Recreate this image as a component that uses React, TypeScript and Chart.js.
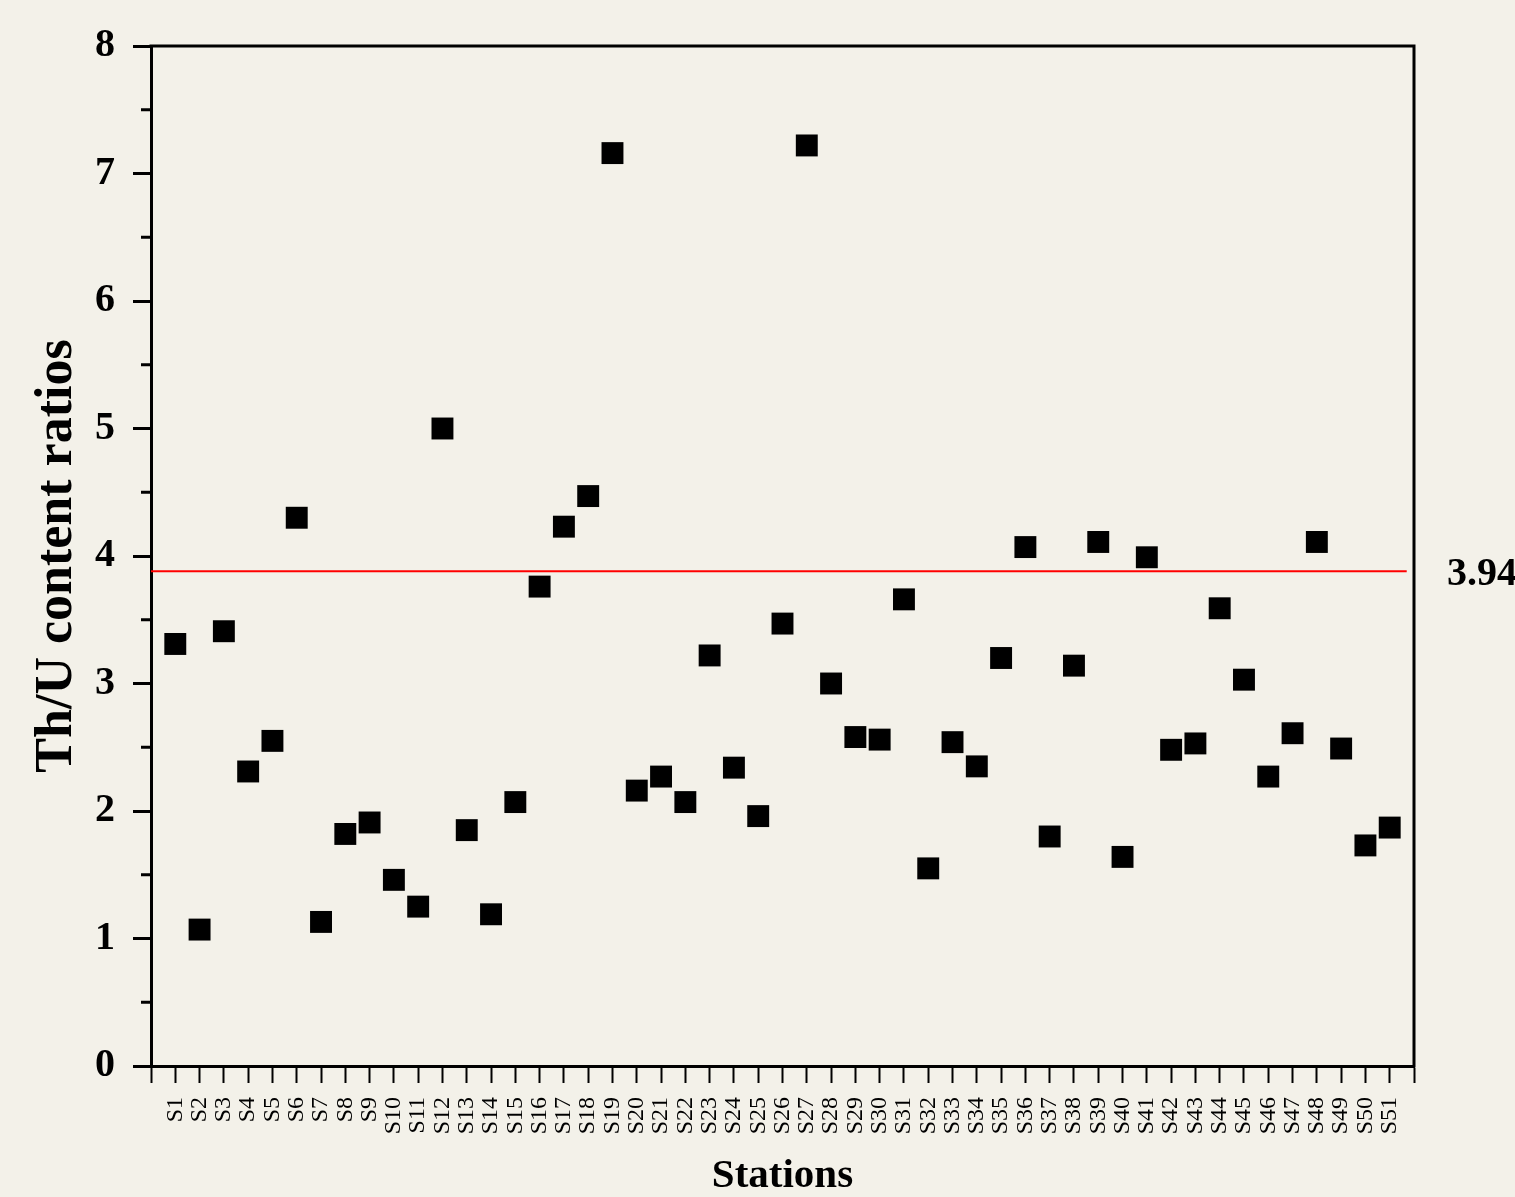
import React, { useEffect, useRef } from 'react';
import { Chart, registerables } from 'chart.js';

Chart.register(...registerables);

const stations = [
  'S1', 'S2', 'S3', 'S4', 'S5', 'S6', 'S7', 'S8', 'S9', 'S10',
  'S11', 'S12', 'S13', 'S14', 'S15', 'S16', 'S17', 'S18', 'S19', 'S20',
  'S21', 'S22', 'S23', 'S24', 'S25', 'S26', 'S27', 'S28', 'S29', 'S30',
  'S31', 'S32', 'S33', 'S34', 'S35', 'S36', 'S37', 'S38', 'S39', 'S40',
  'S41', 'S42', 'S43', 'S44', 'S45', 'S46', 'S47', 'S48', 'S49', 'S50',
  'S51',
];

const thuRatios = [
  3.31, 1.07, 3.41, 2.31, 2.55, 4.30, 1.13, 1.82, 1.91, 1.46,
  1.25, 5.00, 1.85, 1.19, 2.07, 3.76, 4.23, 4.47, 7.16, 2.16,
  2.27, 2.07, 3.22, 2.34, 1.96, 3.47, 7.22, 3.00, 2.58, 2.56,
  3.66, 1.55, 2.54, 2.35, 3.20, 4.07, 1.80, 3.14, 4.11, 1.64,
  3.99, 2.48, 2.53, 3.59, 3.03, 2.27, 2.61, 4.11, 2.49, 1.73,
  1.87,
];

const meanLineValue = 3.88;
const meanLineExtent = [0, 51.7];
const meanLabel = '3.94';

const yMin = 0;
const yMax = 8;
const yMinorTicks = [0.5, 1.5, 2.5, 3.5, 4.5, 5.5, 6.5, 7.5];
const xMin = 0;
const xMax = 52;

const BG = '#f3f1e9';
const FONT = "'Liberation Serif', 'Times New Roman', serif";

export default function App() {
  const canvasRef = useRef<HTMLCanvasElement | null>(null);

  useEffect(() => {
    document.body.style.margin = '0';
    document.body.style.background = BG;
    const canvas = canvasRef.current;
    if (!canvas) return;

    const bgPlugin = {
      id: 'bg',
      beforeDraw(chart: any) {
        const ctx = chart.ctx;
        ctx.save();
        ctx.fillStyle = BG;
        ctx.fillRect(0, 0, chart.width, chart.height);
        ctx.restore();
      },
    };

    const framePlugin = {
      id: 'frame',
      afterDraw(chart: any) {
        const ctx = chart.ctx;
        const { left, right, top, bottom } = chart.chartArea;
        const ys = chart.scales.y;
        ctx.save();
        ctx.strokeStyle = '#000';
        ctx.lineWidth = 3;
        ctx.beginPath();
        ctx.moveTo(left - 1.5, top);
        ctx.lineTo(right, top);
        ctx.lineTo(right, bottom + 1.5);
        ctx.stroke();
        // minor ticks on y axis
        ctx.lineWidth = 3;
        ctx.beginPath();
        yMinorTicks.forEach((v) => {
          const py = ys.getPixelForValue(v);
          ctx.moveTo(left - 10, py);
          ctx.lineTo(left, py);
        });
        ctx.stroke();
        // mean label
        ctx.fillStyle = '#000';
        ctx.font = `bold 40px ${FONT}`;
        ctx.textAlign = 'left';
        ctx.textBaseline = 'middle';
        ctx.fillText(meanLabel, right + 33, ys.getPixelForValue(meanLineValue) + 3);
        ctx.restore();
      },
    };

    const chart = new Chart(canvas, {
      type: 'scatter',
      data: {
        datasets: [
          {
            label: 'Th/U',
            data: thuRatios.map((v, i) => ({ x: i + 1, y: v })),
            backgroundColor: '#000',
            borderColor: '#000',
            borderWidth: 0,
            pointStyle: 'rect',
            pointRadius: 15.5,
            pointHoverRadius: 15.5,
            order: 0,
          },
          {
            type: 'line',
            label: 'mean',
            data: meanLineExtent.map((x) => ({ x, y: meanLineValue })),
            borderColor: '#ff0000',
            borderWidth: 2,
            pointRadius: 0,
            showLine: true,
            fill: false,
            order: 1,
          } as any,
        ],
      },
      options: {
        responsive: false,
        animation: false,
        events: [],
        layout: { padding: { top: 46, right: 101, left: 0, bottom: 0 } },
        plugins: {
          legend: { display: false },
          tooltip: { enabled: false },
        },
        scales: {
          x: {
            type: 'linear',
            min: xMin,
            max: xMax,
            afterFit(scale: any) {
              scale.height = 131;
            },
            border: { display: true, color: '#000', width: 3 },
            grid: {
              display: true,
              drawOnChartArea: false,
              drawTicks: true,
              tickLength: 17,
              tickWidth: 2,
              tickColor: '#000',
            },
            ticks: {
              stepSize: 1,
              autoSkip: false,
              maxTicksLimit: 200,
              minRotation: 90,
              maxRotation: 90,
              padding: 14,
              color: '#000',
              font: { family: FONT, size: 24 },
              callback: (v: any) => stations[Number(v) - 1] ?? '',
            },
            title: {
              display: true,
              text: 'Stations',
              color: '#000',
              font: { family: FONT, size: 41, weight: 'bold', lineHeight: 1 },
              padding: { top: 0, bottom: 0 },
            },
          },
          y: {
            type: 'linear',
            min: yMin,
            max: yMax,
            afterFit(scale: any) {
              scale.width = 151;
            },
            border: { display: true, color: '#000', width: 3 },
            grid: {
              display: true,
              drawOnChartArea: false,
              drawTicks: true,
              tickLength: 18,
              tickWidth: 3,
              tickColor: '#000',
            },
            ticks: {
              stepSize: 1,
              padding: 18,
              color: '#000',
              font: { family: FONT, size: 40, weight: 'bold' },
            },
            title: {
              display: true,
              text: 'Th/U content ratios',
              color: '#000',
              font: { family: FONT, size: 52, weight: 'bold', lineHeight: 1 },
              padding: { top: 32, bottom: 0 },
            },
          },
        },
      },
      plugins: [bgPlugin, framePlugin],
    });

    return () => chart.destroy();
  }, []);

  return (
    <div style={{ width: 1515, height: 1197, background: BG }}>
      <canvas ref={canvasRef} width={1515} height={1197} style={{ display: 'block' }} />
    </div>
  );
}
